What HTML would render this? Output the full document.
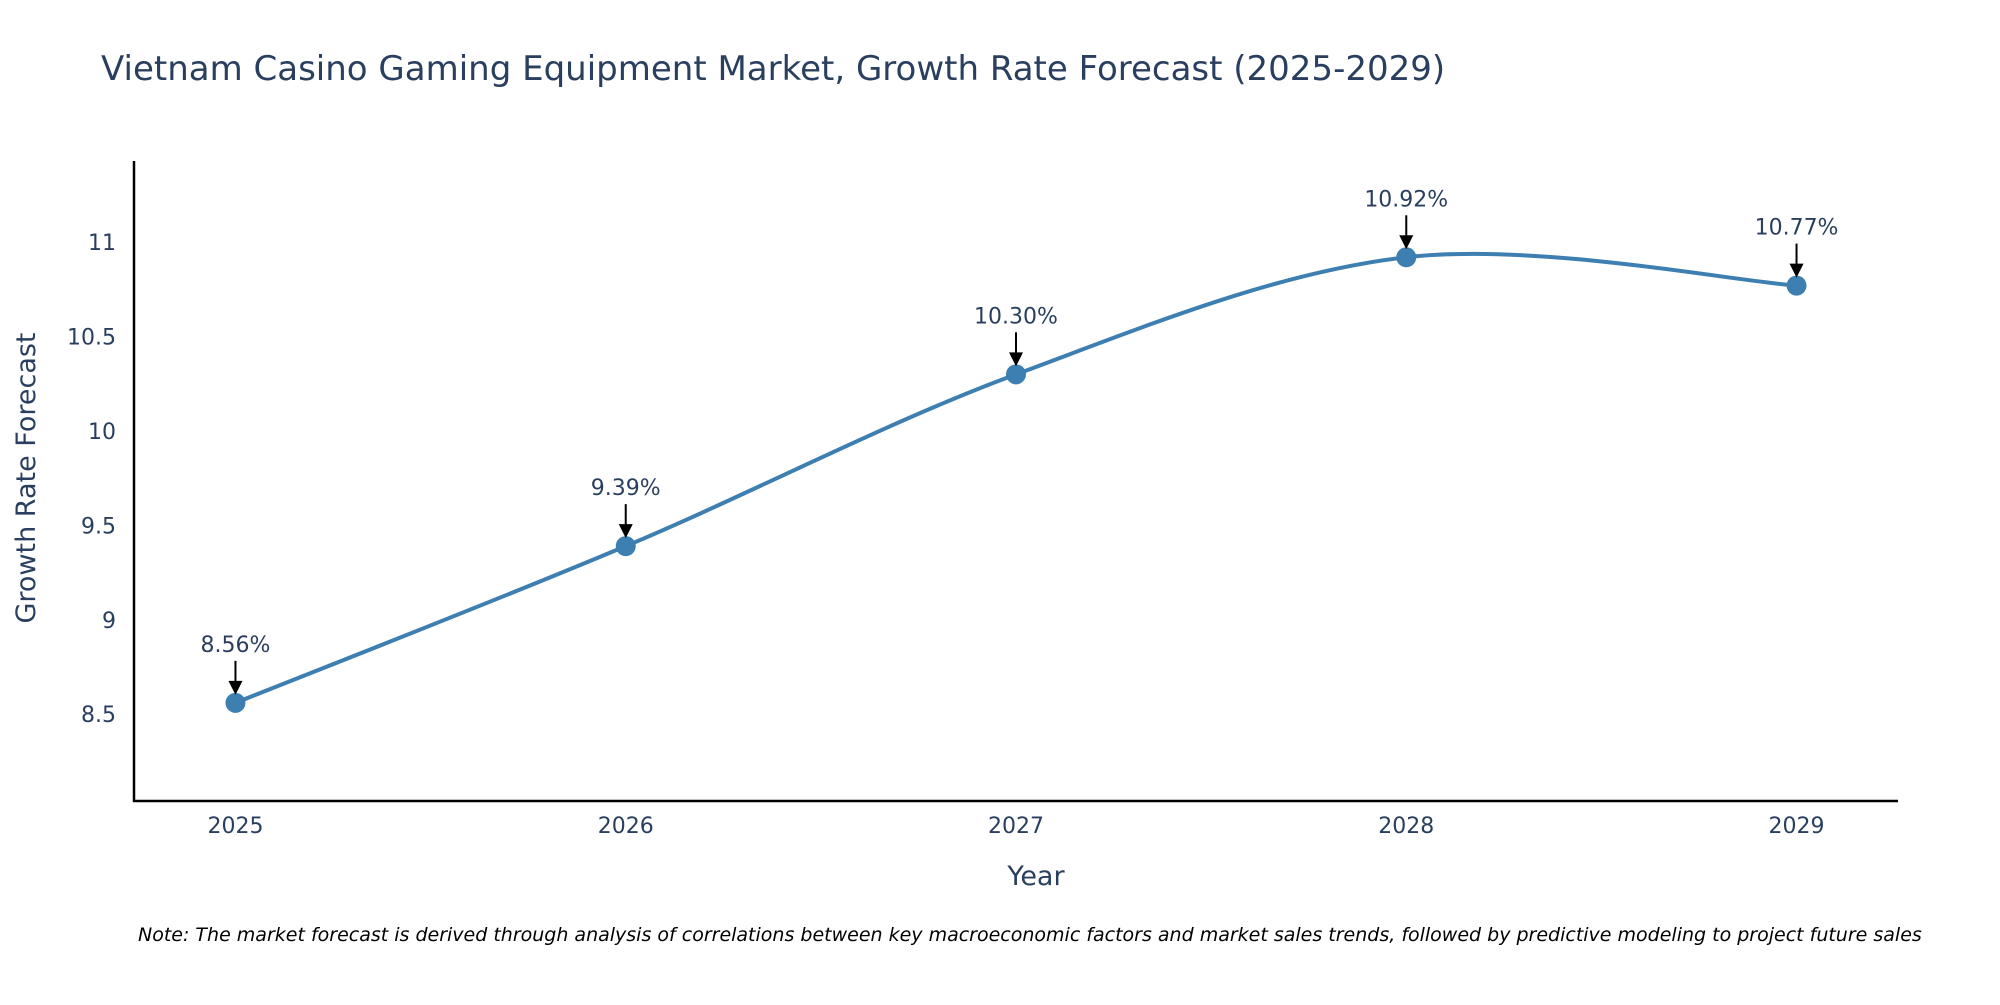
<!DOCTYPE html>
<html><head><meta charset="utf-8"><style>
body{margin:0;background:#fff;}
svg text{font-family:"DejaVu Sans","Liberation Sans",sans-serif;fill:#2a3f5f;}
</style></head><body>
<svg width="2000" height="1000" xmlns="http://www.w3.org/2000/svg" id="c">
<text x="101" y="80" font-size="34">Vietnam Casino Gaming Equipment Market, Growth Rate Forecast (2025-2029)</text>
<g id="plot"></g>
<text x="1036" y="885" font-size="27" text-anchor="middle">Year</text>
<text transform="translate(35,478) rotate(-90)" font-size="27" text-anchor="middle">Growth Rate Forecast</text>
<text x="138" y="941" font-size="19" font-style="italic" style="fill:#000">Note: The market forecast is derived through analysis of correlations between key macroeconomic factors and market sales trends, followed by predictive modeling to project future sales</text>
</svg>
<script>
const years=[2025,2026,2027,2028,2029];
const values=[8.56,9.39,10.30,10.92,10.77];
const labels=["8.56%","9.39%","10.30%","10.92%","10.77%"];
const yTicks=[8.5,9,9.5,10,10.5,11];
const yTickLabels=["8.5","9","9.5","10","10.5","11"];
const L=134,R=1898,T=161,B=801;
const xMin=2024.74,xMax=2029.26,yMin=8.04,yMax=11.43;
const sx=v=>L+(v-xMin)/(xMax-xMin)*(R-L);
const sy=v=>B-(v-yMin)/(yMax-yMin)*(B-T);
const NS="http://www.w3.org/2000/svg";
const g=document.getElementById('plot');
function mk(t,a){const e=document.createElementNS(NS,t);for(const k in a)e.setAttribute(k,a[k]);g.appendChild(e);return e;}
let e;
e=mk('line',{x1:L,y1:T,x2:L,y2:B+1,stroke:'#000','stroke-width':2.5});


e=mk('line',{x1:L-1,y1:B,x2:R,y2:B,stroke:'#000','stroke-width':2.5});


yTicks.forEach((v,i)=>{e=mk('text',{x:L-18,y:sy(v)+8,'font-size':22,'text-anchor':'end'});e.textContent=yTickLabels[i];

});
years.forEach(v=>{e=mk('text',{x:sx(v),y:833,'font-size':22,'text-anchor':'middle'});e.textContent=String(v);

});
const pts=years.map((y,i)=>[sx(y),sy(values[i])]);
let d='M'+pts[0][0]+','+pts[0][1];
const s=0.5/3*2;
for(let i=0;i<pts.length-1;i++){
 const p0=pts[Math.max(0,i-1)],p1=pts[i],p2=pts[i+1],p3=pts[Math.min(pts.length-1,i+2)];
 const c1=[p1[0]+(p2[0]-p0[0])*s/2,p1[1]+(p2[1]-p0[1])*s/2];
 const c2=[p2[0]-(p3[0]-p1[0])*s/2,p2[1]-(p3[1]-p1[1])*s/2];
 d+=' C'+c1+' '+c2+' '+p2;
}
e=mk('path',{d:d,fill:'none',stroke:'#3d7fb1','stroke-width':4});


pts.forEach((p,i)=>{
 e=mk('circle',{cx:p[0],cy:p[1],r:10,fill:'#3d7fb1'});
 
 
 e=mk('line',{x1:p[0],y1:p[1]-42,x2:p[0],y2:p[1]-20,stroke:'#000','stroke-width':2});
 
 
 e=mk('polygon',{points:(p[0]-7)+','+(p[1]-22)+' '+(p[0]+7)+','+(p[1]-22)+' '+p[0]+','+(p[1]-8),fill:'#000'});
 
 
 e=mk('text',{x:p[0],y:p[1]-51,'font-size':22,'text-anchor':'middle'});
 e.textContent=labels[i];
 
 
});
</script>
</body></html>
